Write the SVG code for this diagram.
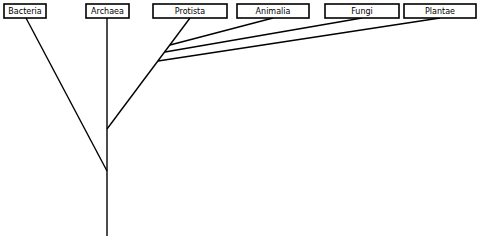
<svg xmlns="http://www.w3.org/2000/svg" width="478" height="236" viewBox="0 0 478 236">
<style>
.box{fill:#fff;stroke:#000;stroke-width:1.6}
.lbl{font-family:"DejaVu Sans",Verdana,sans-serif;font-size:8px;text-anchor:middle;fill:#000}
.edge{stroke:#000;stroke-width:1.4;fill:none}
</style>
<rect width="478" height="236" fill="#fff"/>
<g id="connectors">
<line class="edge" x1="107" y1="18" x2="107" y2="236"/>
<line class="edge" x1="26" y1="18" x2="107" y2="171"/>
<line class="edge" x1="190" y1="18" x2="107" y2="129"/>
<line class="edge" x1="170" y1="45" x2="273" y2="18"/>
<line class="edge" x1="165" y1="52" x2="362" y2="18"/>
<line class="edge" x1="158" y1="61" x2="440" y2="18"/>
</g>
<g id="bacteria"><rect class="box" x="4" y="4" width="42" height="14"/><text class="lbl" x="25" y="14">Bacteria</text></g>
<g id="archaea"><rect class="box" x="86" y="4" width="43" height="14"/><text class="lbl" x="107.5" y="14">Archaea</text></g>
<g id="protista"><rect class="box" x="153" y="4" width="74" height="14"/><text class="lbl" x="190" y="14">Protista</text></g>
<g id="animalia"><rect class="box" x="237" y="4" width="72" height="14"/><text class="lbl" x="273" y="14">Animalia</text></g>
<g id="fungi"><rect class="box" x="325" y="4" width="74" height="14"/><text class="lbl" x="362" y="14">Fungi</text></g>
<g id="plantae"><rect class="box" x="404" y="4" width="72" height="14"/><text class="lbl" x="440" y="14">Plantae</text></g>
</svg>
